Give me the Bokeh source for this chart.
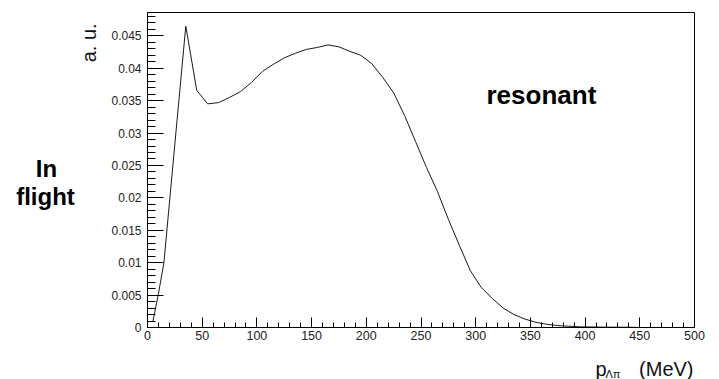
from bokeh.plotting import figure
from bokeh.models import Range1d, Label, FixedTicker, CustomJSTickFormatter
from bokeh.layouts import row, column
from bokeh.core.properties import value
from bokeh.embed import file_html
from bokeh.resources import INLINE

# Data
p_lpi = [5, 10, 15, 25, 35, 45, 55, 65, 75, 85, 95, 105, 115, 125, 135, 145,
         155, 165, 175, 185, 195, 205, 215, 225, 235, 245, 255, 265, 275, 285,
         295, 305, 315, 325, 335, 345, 355, 365, 375, 385, 395, 405, 415, 425,
         435, 445, 450]
counts = [0.0010, 0.0052, 0.0100, 0.0283, 0.0465, 0.0366, 0.0345, 0.0347,
          0.0355, 0.0364, 0.0378, 0.0395, 0.0406, 0.0416, 0.0423, 0.0429,
          0.0432, 0.0436, 0.0433, 0.0426, 0.0420, 0.0407, 0.0386, 0.0362,
          0.0327, 0.0287, 0.0247, 0.0210, 0.0167, 0.0127, 0.0088, 0.0062,
          0.0045, 0.0030, 0.0020, 0.0013, 0.0008, 0.0005, 0.0003, 0.0002,
          0.0001, 0.00008, 0.00006, 0.00005, 0.00004, 0.00003, 0.0]

x_major = [0, 50, 100, 150, 200, 250, 300, 350, 400, 450, 500]
x_minor = [v for v in range(0, 501, 10)]
y_major = [0, 0.005, 0.01, 0.015, 0.02, 0.025, 0.03, 0.035, 0.04, 0.045]
y_minor = [i * 0.001 for i in range(0, 49)]

FONT = "Liberation Sans"

# ---------------- main plot ----------------
p = figure(frame_width=547, frame_height=315,
           min_border_left=47, min_border_right=17,
           min_border_top=12, min_border_bottom=20,
           x_range=Range1d(0, 500), y_range=Range1d(0, 0.0486),
           output_backend="svg", toolbar_location=None,
           background_fill_color="white", border_fill_color="white")

p.outline_line_color = "black"
p.outline_line_width = 1
p.grid.visible = False

p.line(p_lpi, counts, line_color="#1a1a1a", line_width=1)

p.xaxis.ticker = FixedTicker(ticks=x_major, minor_ticks=x_minor)
p.yaxis.ticker = FixedTicker(ticks=y_major, minor_ticks=y_minor)
p.yaxis.formatter = CustomJSTickFormatter(
    code="return tick === 0 ? '0' : String(+tick.toFixed(3));")

for ax in (p.xaxis, p.yaxis):
    ax.axis_line_color = "black"
    ax.major_tick_line_color = "black"
    ax.minor_tick_line_color = "black"
    ax.major_tick_out = 0
    ax.minor_tick_out = 0
    ax.major_label_text_font = FONT
    ax.major_label_text_color = "#222222"

p.xaxis.major_tick_in = 10
p.xaxis.minor_tick_in = 5
p.yaxis.major_tick_in = 16
p.yaxis.minor_tick_in = 8
p.xaxis.major_label_text_font_size = "12.5px"
p.yaxis.major_label_text_font_size = "12px"
p.xaxis.major_label_standoff = 3
p.yaxis.major_label_standoff = 6

p.add_layout(Label(x=(486 - 147) / 1.094, y=(327 - 95) / 6480.0,
                   text="resonant", text_align="left",
                   text_baseline="alphabetic", text_font=FONT,
                   text_font_size="26px", text_font_style="bold",
                   text_color="black"))

# ---------------- left text panel ----------------
left = figure(width=100, height=347, x_range=Range1d(0, 100),
              y_range=Range1d(347, 0), min_border=0,
              x_axis_location=None, y_axis_location=None,
              output_backend="svg", toolbar_location=None,
              background_fill_color="white", border_fill_color="white")
left.outline_line_color = None
left.grid.visible = False
left.text(x=[46, 45], y=[172, 203], text=["In", "flight"],
          text_font=value(FONT), text_font_size="24px",
          text_font_style="bold", text_align="center",
          text_baseline="alphabetic", text_color="black")
left.text(x=[88], y=[12], text=["a. u."], angle=1.5708,
          text_font=value(FONT), text_font_size="20px",
          text_align="right", text_baseline="alphabetic",
          text_color="#111111")

# ---------------- bottom text panel (x-axis title) ----------------
bottom = figure(width=711, height=32, x_range=Range1d(0, 711),
                y_range=Range1d(32, 0), min_border=0,
                x_axis_location=None, y_axis_location=None,
                output_backend="svg", toolbar_location=None,
                background_fill_color="white", border_fill_color="white")
bottom.outline_line_color = None
bottom.grid.visible = False
bottom.text(x=[595], y=[21], text=["p"], text_font=value(FONT),
            text_font_size="20px", text_align="left",
            text_baseline="alphabetic", text_color="#111111")
bottom.text(x=[605], y=[26.5], text=["\u039b\u03c0"], text_font=value(FONT),
            text_font_size="11px", text_align="left",
            text_baseline="alphabetic", text_color="#111111")
bottom.text(x=[693], y=[21], text=["(MeV)"], text_font=value(FONT),
            text_font_size="20px", text_align="right",
            text_baseline="alphabetic", text_color="#111111")

layout = column(row(left, p, spacing=0), bottom, spacing=0)

open("out.html", "w").write(file_html(layout, INLINE))
